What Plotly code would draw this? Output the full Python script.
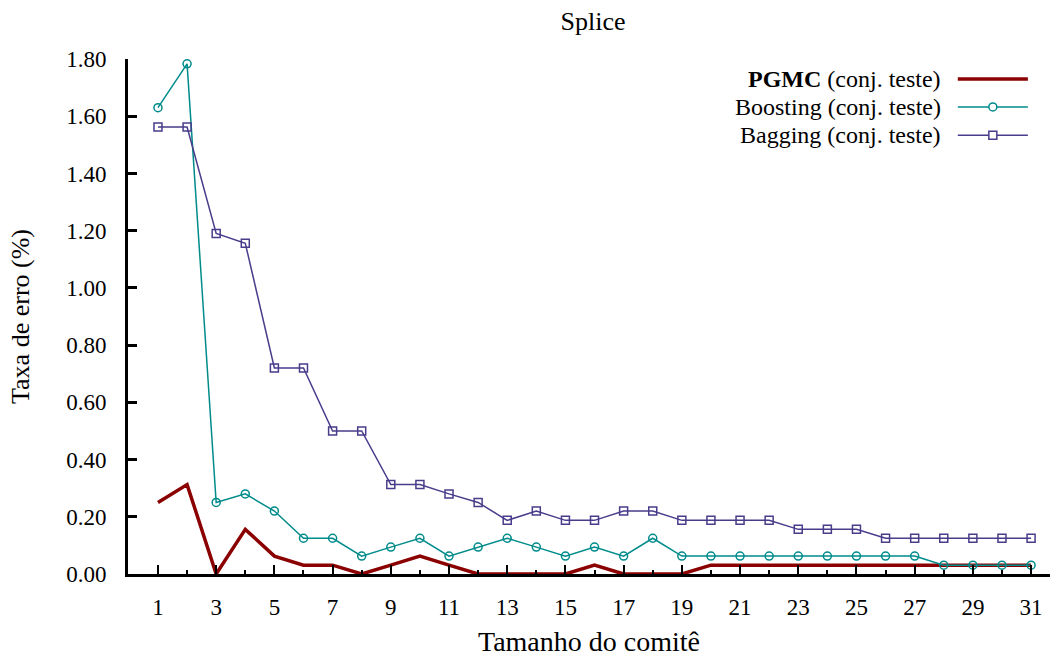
import plotly.graph_objects as go

committee = list(range(1, 32))
pgmc = [0.25, 0.3125, 0.0, 0.156, 0.0625, 0.031, 0.031, 0.0, 0.031, 0.0625,
        0.031, 0.0, 0.0, 0.0, 0.0, 0.031, 0.0, 0.0, 0.0, 0.031,
        0.031, 0.031, 0.031, 0.031, 0.031, 0.031, 0.031, 0.031, 0.031, 0.031, 0.031]
boosting = [1.63, 1.783, 0.25, 0.28, 0.22, 0.125, 0.125, 0.0625, 0.094, 0.125,
            0.0625, 0.094, 0.125, 0.094, 0.0625, 0.094, 0.0625, 0.125, 0.0625, 0.0625,
            0.0625, 0.0625, 0.0625, 0.0625, 0.0625, 0.0625, 0.0625, 0.031, 0.031, 0.031, 0.031]
bagging = [1.5625, 1.5625, 1.19, 1.156, 0.72, 0.72, 0.5, 0.5, 0.3125, 0.3125,
           0.28, 0.25, 0.1875, 0.22, 0.1875, 0.1875, 0.22, 0.22, 0.1875, 0.1875,
           0.1875, 0.1875, 0.156, 0.156, 0.156, 0.125, 0.125, 0.125, 0.125, 0.125, 0.125]
x_ticks = list(range(1, 32, 2))
y_ticks = [0.0, 0.2, 0.4, 0.6, 0.8, 1.0, 1.2, 1.4, 1.6, 1.8]

C_PGMC = "#8b0000"
C_BOOST = "#008b8b"
C_BAG = "#483d8b"
FONT = "Liberation Serif"
TXT = 26

fig = go.Figure()
fig.add_trace(go.Scatter(x=committee, y=pgmc, mode="lines",
                         line=dict(color=C_PGMC, width=3.5), cliponaxis=False,
                         showlegend=False))
fig.add_trace(go.Scatter(x=committee, y=boosting, mode="lines+markers",
                         line=dict(color=C_BOOST, width=1.5),
                         marker=dict(symbol="circle-open", size=8, color=C_BOOST,
                                     line=dict(width=1.5)),
                         cliponaxis=False, showlegend=False))
fig.add_trace(go.Scatter(x=committee, y=bagging, mode="lines+markers",
                         line=dict(color=C_BAG, width=1.5),
                         marker=dict(symbol="square-open", size=8, color=C_BAG,
                                     line=dict(width=1.5)),
                         cliponaxis=False, showlegend=False))

# manual legend (text right-aligned, sample on the right, like gnuplot)
legend_rows = [
    ("<b>PGMC</b> (conj. teste)", C_PGMC, 3.5, None),
    ("Boosting (conj. teste)", C_BOOST, 1.5, "circle"),
    ("Bagging (conj. teste)", C_BAG, 1.5, "rect"),
]
row_y = [0.961, 0.907, 0.852]
shapes = []
annotations = []
for (label, col, w, mk), yy in zip(legend_rows, row_y):
    annotations.append(dict(x=0.883, y=yy, xref="paper", yref="paper",
                            text=label, showarrow=False, xanchor="right",
                            yanchor="middle", borderpad=0,
                            font=dict(family=FONT, size=24, color="black")))
    shapes.append(dict(type="line", xref="paper", yref="paper",
                       x0=0.900, x1=0.976, y0=yy, y1=yy,
                       line=dict(color=col, width=w)))
    if mk:
        shapes.append(dict(type=mk, xref="paper", yref="paper",
                           xsizemode="pixel", ysizemode="pixel",
                           xanchor=0.938, yanchor=yy, x0=-4, x1=4, y0=-4, y1=4,
                           line=dict(color=col, width=1.5), fillcolor="white"))

fig.update_layout(
    width=1057, height=660,
    margin=dict(l=128, r=7, t=59, b=86),
    paper_bgcolor="white", plot_bgcolor="white",
    font=dict(family=FONT, size=23, color="black"),
    title=dict(text="Splice", x=0.561, xanchor="center", y=0.968, yanchor="middle",
               font=dict(family=FONT, size=TXT)),
    shapes=shapes, annotations=annotations,
    xaxis=dict(range=[-0.03, 31.65], tickvals=x_ticks, ticktext=[str(v) for v in x_ticks],
               ticks="inside", ticklen=9, tickwidth=2, tickcolor="black",
               showline=True, linecolor="black", linewidth=3, showgrid=False,
               zeroline=False, ticklabelstandoff=10,
               tickfont=dict(family=FONT, size=23),
               minor=dict(tickvals=list(range(2, 32, 2)), ticks="inside", ticklen=4,
                          tickwidth=2, tickcolor="black", showgrid=False),
               title=dict(text="Tamanho do comitê", standoff=13,
                          font=dict(family=FONT, size=28))),
    yaxis=dict(range=[0, 1.8], tickvals=y_ticks, tickformat=".2f",
               ticks="inside", ticklen=9, tickwidth=3, tickcolor="black",
               showline=True, linecolor="black", linewidth=3, showgrid=False,
               zeroline=False, ticklabelstandoff=14,
               tickfont=dict(family=FONT, size=23),
               title=dict(text="Taxa de erro (%)", standoff=30,
                          font=dict(family=FONT, size=TXT))),
)

fig.write_html("out.html")
